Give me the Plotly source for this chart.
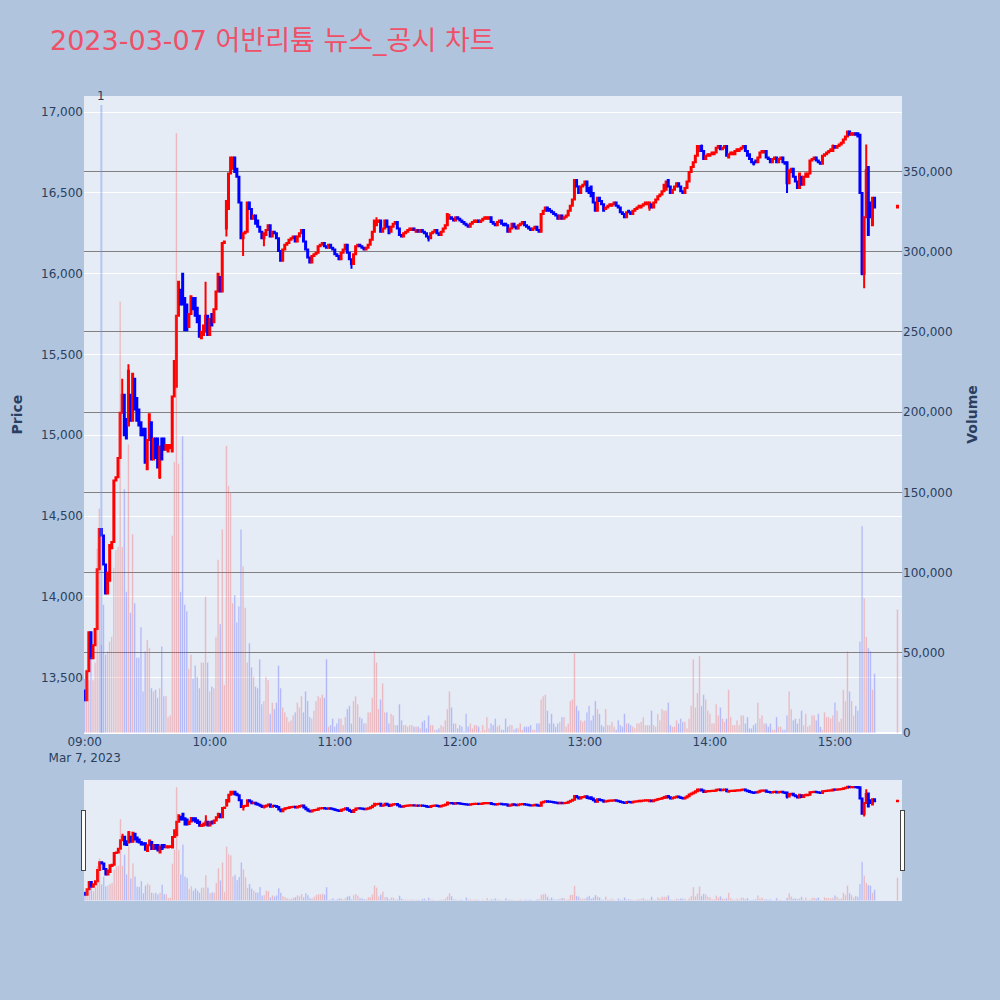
import pandas as pd
import plotly.graph_objects as go
from plotly.subplots import make_subplots

TITLE = "2023-03-07 어반리튬 뉴스_공시 차트"

# one bar per minute from 09:00 to 15:19, then the 15:30 closing auction
times = list(pd.date_range("2023-03-07 09:00", "2023-03-07 15:19", freq="min"))
times.append(pd.Timestamp("2023-03-07 15:30"))

opens = [
    13420, 13360, 13540, 13780, 13620, 13700, 13800, 14170, 14420, 14380,
    14200, 14020, 14100, 14300, 14340, 14720, 14740, 14860, 15140, 15250,
    15100, 15060, 15250, 15090, 15350, 15230, 15160, 15080, 15040, 15040,
    14790, 14970, 15080, 14850, 14980, 14980, 14740, 14980, 14980, 14910,
    14900, 14920, 14900, 15240, 15300, 15740, 15900, 16000, 15850, 15810,
    15670, 15750, 15850, 15850, 15790, 15740, 15600, 15620, 15640, 15740,
    15620, 15750, 15700, 15780, 15890, 15980, 15890, 16190, 16280, 16400,
    16620, 16650, 16720, 16650, 16600, 16440, 16220, 16250, 16260, 16440,
    16400, 16340, 16360, 16330, 16290, 16260, 16220, 16240, 16270, 16300,
    16230, 16260, 16250, 16220, 16140, 16080, 16150, 16180, 16190, 16210,
    16220, 16230, 16200, 16230, 16250, 16270, 16200, 16150, 16100, 16070,
    16110, 16120, 16130, 16170, 16180, 16190, 16170, 16160, 16180, 16160,
    16150, 16120, 16110, 16090, 16130, 16150, 16180, 16130, 16090, 16060,
    16120, 16170, 16180, 16170, 16160, 16150, 16160, 16180, 16210, 16260,
    16300, 16320, 16330, 16260, 16280, 16330, 16290, 16260, 16290, 16310,
    16320, 16280, 16240, 16230, 16250, 16260, 16270, 16270, 16280, 16260,
    16270, 16260, 16270, 16260, 16250, 16230, 16220, 16250, 16260, 16270,
    16250, 16240, 16260, 16280, 16300, 16340, 16350, 16340, 16330, 16350,
    16340, 16330, 16320, 16310, 16300, 16290, 16310, 16320, 16320, 16330,
    16320, 16330, 16340, 16340, 16340, 16350, 16320, 16310, 16300, 16320,
    16330, 16310, 16310, 16300, 16260, 16280, 16310, 16290, 16280, 16300,
    16310, 16320, 16300, 16290, 16280, 16270, 16280, 16290, 16270, 16260,
    16370, 16390, 16410, 16400, 16390, 16380, 16370, 16360, 16340, 16360,
    16340, 16350, 16360, 16390, 16420, 16460, 16580, 16540, 16500, 16540,
    16550, 16570, 16530, 16540, 16500, 16440, 16390, 16470, 16450, 16430,
    16400, 16410, 16420, 16420, 16430, 16440, 16420, 16410, 16380, 16370,
    16350, 16390, 16380, 16370, 16390, 16400, 16410, 16410, 16420, 16430,
    16430, 16410, 16430, 16410, 16440, 16460, 16480, 16490, 16510, 16520,
    16580, 16540, 16500, 16520, 16540, 16560, 16540, 16510, 16500, 16530,
    16570, 16630, 16660, 16690, 16730, 16760, 16790, 16760, 16710, 16730,
    16730, 16740, 16740, 16750, 16780, 16790, 16770, 16780, 16790, 16720,
    16740, 16740, 16740, 16760, 16760, 16770, 16780, 16790, 16760, 16740,
    16710, 16690, 16700, 16690, 16720, 16750, 16750, 16760, 16720, 16710,
    16690, 16710, 16720, 16690, 16710, 16720, 16690, 16690, 16560, 16630,
    16650, 16600, 16570, 16530, 16600, 16550, 16600, 16600, 16620, 16700,
    16710, 16720, 16700, 16690, 16680, 16730, 16740, 16750, 16760, 16760,
    16790, 16780, 16790, 16800, 16810, 16830, 16850, 16880, 16860, 16860,
    16870, 16870, 16860, 16500, 16000, 16350, 16660, 16440, 16300, 16470,
    16410,
]

closes = [
    13360, 13540, 13780, 13620, 13700, 13800, 14170, 14420, 14380, 14200,
    14020, 14150, 14320, 14340, 14720, 14740, 14860, 15140, 15250, 15000,
    14980, 15400, 15090, 15380, 15160, 15090, 15060, 15000, 15000, 14830,
    14970, 15130, 14850, 14980, 14860, 14800, 14930, 14850, 14910, 14940,
    14940, 14940, 15240, 15460, 15740, 15950, 15810, 15810, 15650, 15650,
    15750, 15860, 15780, 15740, 15700, 15610, 15640, 15680, 15740, 15620,
    15720, 15680, 15780, 15890, 16000, 15890, 16190, 16200, 16450, 16620,
    16720, 16720, 16630, 16600, 16440, 16220, 16250, 16260, 16440, 16400,
    16340, 16360, 16310, 16290, 16260, 16220, 16250, 16270, 16300, 16230,
    16260, 16250, 16220, 16140, 16080, 16150, 16180, 16190, 16210, 16220,
    16230, 16200, 16230, 16250, 16270, 16200, 16150, 16100, 16070, 16110,
    16120, 16130, 16170, 16180, 16190, 16170, 16160, 16180, 16160, 16150,
    16120, 16110, 16090, 16130, 16150, 16180, 16130, 16090, 16060, 16120,
    16170, 16180, 16170, 16160, 16150, 16160, 16180, 16210, 16260, 16330,
    16320, 16330, 16260, 16280, 16330, 16290, 16250, 16290, 16310, 16320,
    16280, 16240, 16230, 16250, 16260, 16270, 16280, 16280, 16270, 16270,
    16260, 16270, 16260, 16250, 16230, 16220, 16250, 16260, 16270, 16250,
    16240, 16260, 16280, 16300, 16370, 16350, 16340, 16330, 16350, 16340,
    16330, 16320, 16310, 16300, 16290, 16310, 16320, 16330, 16330, 16320,
    16330, 16340, 16350, 16350, 16350, 16320, 16310, 16300, 16320, 16330,
    16310, 16300, 16300, 16260, 16280, 16310, 16290, 16280, 16300, 16310,
    16320, 16300, 16290, 16280, 16270, 16280, 16290, 16270, 16260, 16370,
    16390, 16410, 16390, 16390, 16380, 16370, 16360, 16340, 16360, 16340,
    16350, 16360, 16390, 16420, 16460, 16580, 16540, 16500, 16540, 16550,
    16570, 16510, 16500, 16480, 16440, 16390, 16470, 16450, 16430, 16390,
    16410, 16420, 16430, 16430, 16440, 16420, 16410, 16380, 16370, 16350,
    16380, 16380, 16370, 16390, 16400, 16410, 16420, 16420, 16430, 16440,
    16440, 16440, 16410, 16440, 16460, 16480, 16490, 16510, 16550, 16570,
    16540, 16500, 16520, 16540, 16560, 16540, 16510, 16500, 16530, 16570,
    16630, 16660, 16690, 16730, 16790, 16790, 16760, 16710, 16730, 16740,
    16740, 16750, 16750, 16780, 16790, 16770, 16780, 16790, 16730, 16740,
    16750, 16750, 16760, 16770, 16770, 16780, 16790, 16760, 16730, 16710,
    16690, 16680, 16690, 16720, 16750, 16760, 16760, 16720, 16710, 16690,
    16710, 16720, 16690, 16710, 16720, 16690, 16680, 16560, 16640, 16650,
    16600, 16570, 16530, 16620, 16550, 16600, 16620, 16620, 16700, 16710,
    16720, 16700, 16690, 16680, 16730, 16740, 16750, 16760, 16770, 16790,
    16780, 16790, 16800, 16810, 16830, 16850, 16880, 16860, 16870, 16870,
    16860, 16850, 16500, 16000, 16350, 16640, 16240, 16350, 16470, 16410,
    16420,
]

volumes = [
    34000, 40000, 33000, 47000, 33000, 44000, 115000, 140000, 55000, 80000,
    49000, 51000, 57000, 60000, 103000, 114000, 116000, 269000, 116000, 152000,
    88000, 180000, 75000, 124000, 81000, 47000, 47000, 66000, 26000, 51000,
    58000, 53000, 28000, 26000, 27000, 22000, 28000, 54000, 23000, 23000,
    10000, 11000, 123000, 169000, 374000, 168000, 88000, 185000, 80000, 76000,
    40000, 49000, 34000, 42000, 35000, 28000, 44000, 44000, 85000, 44000,
    26000, 29000, 28000, 60000, 108000, 68000, 127000, 30000, 179000, 154000,
    150000, 81000, 86000, 69000, 79000, 127000, 104000, 78000, 44000, 56000,
    41000, 35000, 29000, 28000, 46000, 18000, 20000, 35000, 33000, 12000,
    19000, 15000, 19000, 42000, 28000, 16000, 13000, 10000, 7000, 8000,
    11000, 13000, 19000, 16000, 23000, 13000, 26000, 20000, 10000, 9000,
    14000, 20000, 23000, 22000, 24000, 22000, 46000, 4000, 5000, 9000,
    4000, 6000, 9000, 9000, 5000, 10000, 15000, 17000, 6000, 20000,
    23000, 18000, 10000, 9000, 6000, 6000, 13000, 13000, 22000, 51000,
    44000, 15000, 21000, 31000, 13000, 13000, 6000, 12000, 11000, 5000,
    5000, 18000, 8000, 5000, 5000, 4000, 5000, 5000, 4000, 4000,
    4000, 3000, 7000, 8000, 3000, 11000, 5000, 5000, 2000, 2000,
    3000, 5000, 4000, 8000, 15000, 26000, 16000, 6000, 6000, 3000,
    5000, 4000, 1000, 12000, 4000, 6000, 3000, 5000, 5000, 4000,
    1000, 5000, 2000, 10000, 3000, 6000, 5000, 9000, 4000, 5000,
    2000, 2000, 9000, 4000, 5000, 5000, 2000, 3000, 3000, 6000,
    2000, 4000, 4000, 4000, 5000, 2000, 2000, 6000, 6000, 21000,
    23000, 24000, 14000, 6000, 12000, 6000, 4000, 6000, 7000, 10000,
    10000, 4000, 6000, 20000, 21000, 50000, 17000, 14000, 8000, 7000,
    8000, 13000, 17000, 8000, 11000, 20000, 15000, 12000, 5000, 4000,
    15000, 5000, 5000, 7000, 4000, 2000, 8000, 5000, 4000, 12000,
    6000, 6000, 5000, 4000, 3000, 6000, 6000, 7000, 10000, 5000,
    5000, 5000, 14000, 5000, 4000, 12000, 8000, 15000, 14000, 14000,
    19000, 5000, 4000, 4000, 8000, 6000, 9000, 7000, 7000, 3000,
    9000, 17000, 46000, 16000, 25000, 48000, 17000, 24000, 21000, 14000,
    12000, 6000, 6000, 18000, 11000, 16000, 9000, 7000, 9000, 27000,
    10000, 5000, 5000, 8000, 5000, 11000, 11000, 6000, 10000, 3000,
    3000, 5000, 6000, 19000, 9000, 11000, 6000, 6000, 4000, 6000,
    2000, 2000, 10000, 4000, 4000, 2000, 2000, 11000, 26000, 15000,
    8000, 9000, 6000, 9000, 14000, 5000, 12000, 4000, 5000, 11000,
    11000, 8000, 12000, 4000, 2000, 13000, 10000, 10000, 9000, 11000,
    19000, 14000, 7000, 9000, 27000, 20000, 51000, 26000, 20000, 11000,
    17000, 14000, 57000, 129000, 84000, 60000, 53000, 51000, 27000, 37000,
    77000,
]

# wicks reaching past the body: bar index -> (high, low)
wicks = {
    18: (15350, None), 21: (15440, None), 36: (None, 14730), 58: (15950, None),
    68: (None, 16230), 76: (None, 16110), 86: (None, 16170), 128: (None, 16030),
    140: (16350, None), 165: (None, 16200), 175: (16370, None), 271: (None, 16390),
    296: (16800, None), 321: (None, 16670), 337: (None, 16500), 359: (16800, None),
    373: (None, 15990), 374: (None, 15910), 375: (16800, None),
}

news_times = ["2023-03-07 09:08"]
news_labels = ["1"]

highs = [max(o, c) for o, c in zip(opens, closes)]
lows = [min(o, c) for o, c in zip(opens, closes)]
for i, (hi, lo) in wicks.items():
    if hi is not None:
        highs[i] = hi
    if lo is not None:
        lows[i] = lo

# volume colour follows the candle direction (same rule plotly uses)
vol_colors = []
for i, (o, c) in enumerate(zip(opens, closes)):
    up = c > o or (c == o and i > 0 and c >= closes[i - 1])
    vol_colors.append("red" if up else "blue")

fig = make_subplots(specs=[[{"secondary_y": True}]])

fig.add_trace(go.Candlestick(
    x=times, open=opens, high=highs, low=lows, close=closes,
    increasing=dict(line=dict(color="red"), fillcolor="red"),
    decreasing=dict(line=dict(color="blue"), fillcolor="blue"),
    name="Price", showlegend=False
), secondary_y=False)

fig.add_trace(go.Bar(
    x=times, y=volumes, marker_color=vol_colors, opacity=0.25,
    name="Volume", showlegend=False
), secondary_y=True)

for t, label in zip(news_times, news_labels):
    fig.add_shape(type="line", xref="x", yref="y", x0=t, x1=t, y0=13157, y1=17045,
                  line=dict(color="rgba(110,140,235,0.4)", width=2))
    fig.add_annotation(x=t, y=17045, xref="x", yref="y", text=label, showarrow=False,
                       yanchor="bottom", font=dict(size=12, color="#2a3f5f"))

fig.update_layout(
    width=1000, height=1000,
    font=dict(family="Verdana, DejaVu Sans, sans-serif"),
    title=dict(text=TITLE, x=0.05, y=0.959, yanchor="middle",
               font=dict(size=27, color="#EF5068",
                         family="DejaVu Sans, Noto Sans CJK KR, sans-serif")),
    paper_bgcolor="lightsteelblue",
    plot_bgcolor="#E5ECF6",
    margin=dict(t=96, b=100, l=84, r=98),
    showlegend=False,
    bargap=0.2,
)
fig.update_xaxes(
    domain=[0, 1],
    showgrid=False,
    range=["2023-03-07 08:59:40", "2023-03-07 15:32:10"],
    rangeslider=dict(visible=True, bgcolor="#E5ECF6", thickness=0.15),
)
fig.update_yaxes(
    title=dict(text="Price", font=dict(size=14, weight="bold")),
    range=[13157, 17100], tickformat=",", dtick=500,
    automargin=False,
    secondary_y=False,
)
fig.update_yaxes(
    title=dict(text="Volume", font=dict(size=14, weight="bold")),
    range=[0, 397000], tickformat=",", dtick=50000,
    showgrid=True, gridcolor="gray",
    automargin=False,
    secondary_y=True,
)

# page margin off so the 1000x1000 figure sits flush in the window
fig.write_html("out.html", config={"displayModeBar": False},
               post_script="document.body.style.margin='0';")
